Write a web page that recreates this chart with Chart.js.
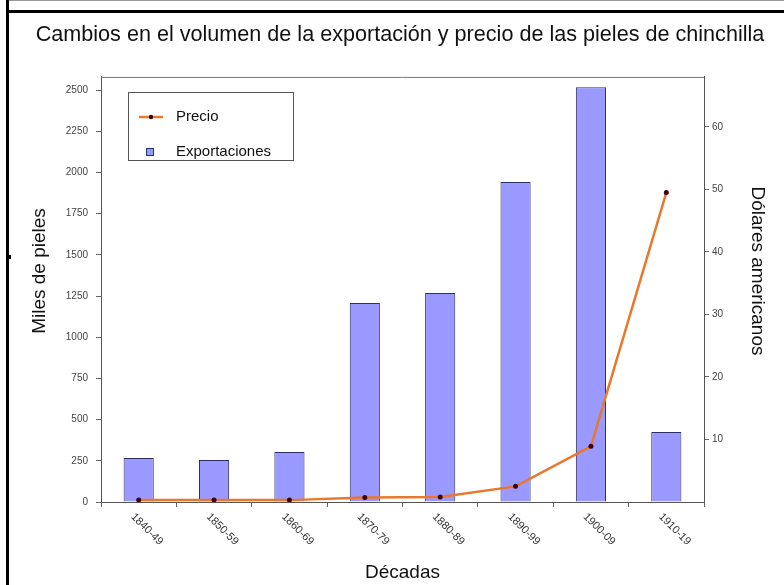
<!DOCTYPE html>
<html lang="es">
<head>
<meta charset="utf-8">
<title>Pieles de chinchilla</title>
<script src="https://cdn.jsdelivr.net/npm/chart.js@4.4.1/dist/chart.umd.min.js"></script>
<style>
    html, body { margin: 0; padding: 0; background: #ffffff; }
    #marco { position: relative; width: 784px; height: 585px; overflow: hidden; }
    #grafico { position: absolute; left: 0; top: 0; }
    .linea { position: absolute; background: #000; }
</style>
</head>
<body>
<div id="marco">
    <canvas id="grafico" width="784" height="585"></canvas>
    <div class="linea" style="left:8px; top:0; width:776px; height:1px; background:#999;"></div>
    <div class="linea" style="left:6px; top:0; width:3px; height:585px;"></div>
    <div class="linea" style="left:6px; top:10px; width:778px; height:3px;"></div>
    <div class="linea" style="left:8px; top:255px; width:3px; height:4px;"></div>
</div>
<script>
// Datos
const categorias = ['1840-49', '1850-59', '1860-69', '1870-79', '1880-89', '1890-99', '1900-09', '1910-19'];
const exportaciones = [267, 255, 303, 1208, 1268, 1942, 2518, 425];   // miles de pieles
const precio = [0.3, 0.3, 0.3, 0.7, 0.8, 2.5, 8.9, 49.5];             // dólares
const ticksIzq = [0, 250, 500, 750, 1000, 1250, 1500, 1750, 2000, 2250, 2500];
const ticksDer = [10, 20, 30, 40, 50, 60];

const colorBarra = '#9999FF';
const bordeBarra = '#2E2E66';
const colorLinea = '#E8782C';
const colorPunto = '#3D0010';
const fuente = "'Liberation Sans', Arial, sans-serif";

// Etiquetas del eje X giradas, títulos verticales, leyenda y borde superior
const extras = {
    id: 'extras',
    afterDraw(chart) {
        const ctx = chart.ctx;
        const area = chart.chartArea;
        const x = chart.scales.x;
        ctx.save();

        // borde superior del área
        ctx.strokeStyle = '#777';
        ctx.lineWidth = 1;
        ctx.beginPath();
        ctx.moveTo(area.left, area.top + 0.5);
        ctx.lineTo(area.right, area.top + 0.5);
        ctx.stroke();

        // etiquetas de décadas
        ctx.fillStyle = '#333';
        ctx.font = '11px ' + fuente;
        ctx.textAlign = 'left';
        ctx.textBaseline = 'middle';
        categorias.forEach((c, i) => {
            const px = x.getPixelForValue(i);
            ctx.save();
            ctx.translate(px - 6, area.bottom + 13);
            ctx.rotate(Math.PI / 4);
            ctx.fillText(c, 0, 0);
            ctx.restore();
        });

        // títulos de los ejes verticales
        ctx.fillStyle = '#111';
        ctx.font = '19px ' + fuente;
        ctx.textAlign = 'center';
        ctx.save();
        ctx.translate(40, 271);
        ctx.rotate(-Math.PI / 2);
        ctx.fillText('Miles de pieles', 0, 0);
        ctx.restore();
        ctx.save();
        ctx.translate(757, 271);
        ctx.rotate(Math.PI / 2);
        ctx.fillText('Dólares americanos', 0, 0);
        ctx.restore();

        // leyenda
        const lx = 128, ly = 92, lw = 165, lh = 68;
        ctx.fillStyle = '#fff';
        ctx.fillRect(lx, ly, lw, lh);
        ctx.strokeStyle = '#555';
        ctx.strokeRect(lx + 0.5, ly + 0.5, lw, lh);

        const dsLinea = chart.data.datasets[0];
        const dsBarra = chart.data.datasets[1];
        ctx.strokeStyle = colorLinea;
        ctx.lineWidth = 2.5;
        ctx.beginPath();
        ctx.moveTo(139, 117);
        ctx.lineTo(163, 117);
        ctx.stroke();
        ctx.fillStyle = colorPunto;
        ctx.beginPath();
        ctx.arc(151, 117, 2.2, 0, Math.PI * 2);
        ctx.fill();

        ctx.fillStyle = colorBarra;
        ctx.fillRect(146, 148, 8, 8);
        ctx.strokeStyle = bordeBarra;
        ctx.lineWidth = 1;
        ctx.strokeRect(146.5, 148.5, 7, 7);

        ctx.fillStyle = '#111';
        ctx.font = '15px ' + fuente;
        ctx.textAlign = 'left';
        ctx.fillText(dsLinea.label, 176, 117);
        ctx.fillText(dsBarra.label, 176, 152);

        ctx.restore();
    }
};

new Chart(document.getElementById('grafico').getContext('2d'), {
    data: {
        labels: categorias,
        datasets: [
            {
                type: 'line',
                label: 'Precio',
                data: precio,
                yAxisID: 'yDer',
                borderColor: colorLinea,
                borderWidth: 2.5,
                pointRadius: 2.5,
                pointBackgroundColor: colorPunto,
                pointBorderColor: colorPunto,
                pointBorderWidth: 0,
                tension: 0,
                order: 0
            },
            {
                type: 'bar',
                label: 'Exportaciones',
                data: exportaciones,
                yAxisID: 'yIzq',
                backgroundColor: colorBarra,
                borderColor: bordeBarra,
                borderWidth: 1,
                barPercentage: 0.4,
                categoryPercentage: 1,
                order: 1
            }
        ]
    },
    options: {
        responsive: false,
        animation: false,
        layout: { padding: { left: 16, right: 0, top: 0, bottom: 0 } },
        plugins: {
            legend: { display: false },
            tooltip: { enabled: false },
            title: {
                display: true,
                text: 'Cambios en el volumen de la exportación y precio de las pieles de chinchilla',
                color: '#111',
                font: { family: fuente, size: 21.6, weight: 'normal' },
                padding: { top: 22, bottom: 29 }
            }
        },
        scales: {
            x: {
                type: 'category',
                ticks: { display: false },
                grid: { drawOnChartArea: false, drawTicks: true, tickLength: 5, color: '#666', offset: true },
                border: { display: true, color: '#555' },
                title: {
                    display: true,
                    text: 'Décadas',
                    color: '#111',
                    font: { family: fuente, size: 19 },
                    padding: { top: 0, bottom: 1 }
                },
                afterFit(scale) { scale.height = 83; }
            },
            yIzq: {
                type: 'linear',
                position: 'left',
                min: 0,
                max: 2580,
                afterBuildTicks(scale) { scale.ticks = ticksIzq.map(v => ({ value: v })); },
                ticks: {
                    color: '#444',
                    font: { family: fuente, size: 10 },
                    padding: 8,
                    callback: (v) => String(v)
                },
                grid: { drawOnChartArea: false, tickLength: 5, color: '#666' },
                border: { display: true, color: '#555' },
                afterFit(scale) { scale.width = 85; }
            },
            yDer: {
                type: 'linear',
                position: 'right',
                min: 0,
                max: 68,
                afterBuildTicks(scale) { scale.ticks = ticksDer.map(v => ({ value: v })); },
                ticks: {
                    color: '#444',
                    font: { family: fuente, size: 10 },
                    padding: 3,
                    callback: (v) => String(v)
                },
                grid: { drawOnChartArea: false, tickLength: 5, color: '#666' },
                border: { display: true, color: '#555' },
                afterFit(scale) { scale.width = 80; }
            }
        }
    },
    plugins: [extras]
});
</script>
</body>
</html>
